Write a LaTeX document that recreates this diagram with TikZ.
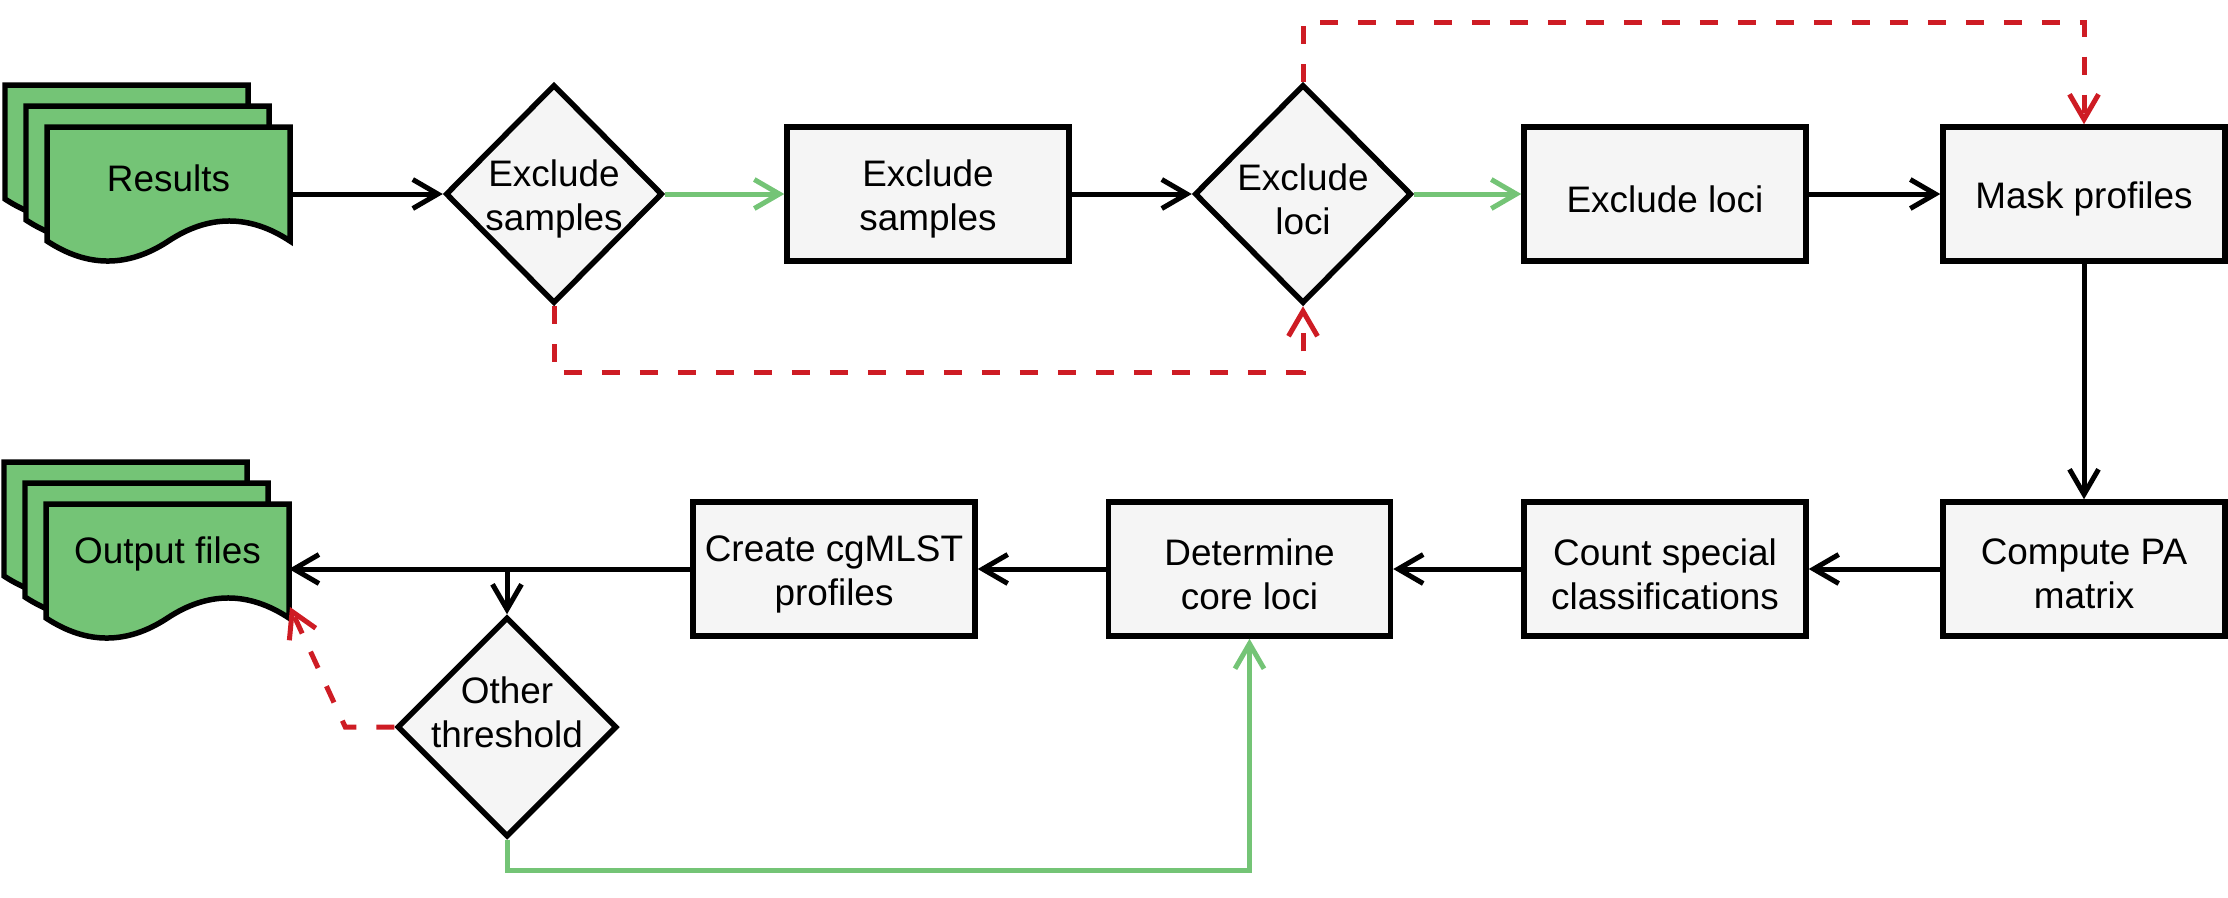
\documentclass[tikz,border=0pt]{standalone}
\usepackage{fontspec}
\setmainfont{Liberation Sans}
\usetikzlibrary{shapes.geometric,arrows.meta}
\definecolor{dgreen}{RGB}{116,196,118}
\definecolor{dred}{RGB}{206,28,36}
\definecolor{boxfill}{RGB}{245,245,245}
\newcommand\docpage[2]{%
  \path[docsheet] (#1,#2) -- (#1+243,#2) -- (#1+243,#2+114)
    .. controls (#1+202.5,#2+87.3) and (#1+162,#2+87.3) .. (#1+121.5,#2+114)
    .. controls (#1+81,#2+140.7) and (#1+40.5,#2+140.7) .. (#1,#2+114) -- cycle;}
\newcommand\boxtext[2]{\node[txt, yshift=-0.1cm] at (#1.center) {#2};}
\begin{document}
\begin{tikzpicture}[x=0.02cm,y=-0.02cm,
  font=\fontsize{21}{25}\selectfont,
  stepbox/.style={draw=black, fill=boxfill, line width=0.11cm, minimum width=5.64cm, minimum height=2.68cm, inner sep=0pt},
  decision/.style={diamond, draw=black, fill=boxfill, line width=0.11cm, minimum width=4.34cm, minimum height=4.38cm, inner sep=0pt},
  docsheet/.style={draw=black, fill=dgreen, line width=0.11cm, line join=miter},
  txt/.style={align=center, inner sep=0pt},
  anchorbox/.style={inner sep=0pt, outer sep=0pt, minimum width=4.86cm, minimum height=2.64cm},
  conn/.style={line width=0.1cm, -{Straight Barb[length=0.5cm,width=0.58cm]}},
  dashpat/.style={dash pattern=on 0.36cm off 0.4cm}]
\useasboundingbox (0,0) rectangle (2228,897);

% document stacks
\docpage{5}{85}\docpage{26}{106}\docpage{47}{127}
\docpage{4}{462}\docpage{25}{483}\docpage{46}{504}
\node[anchorbox] (res) at (168.5,194) {};
\node[txt] at (168.5,178) {Results};
\node[anchorbox] (out) at (167.5,569) {};
\node[txt] at (167.5,554) {Output files};
\coordinate (outR) at (290,607);

% top row
\node[decision] (d1) at (554,194) {};
\boxtext{d1}{Exclude\\samples}
\node[stepbox] (b1) at (928,194) {};
\boxtext{b1}{Exclude\\samples}
\node[decision] (d2) at (1303,194) {};
\boxtext{d2}{Exclude\\loci}
\node[stepbox] (b2) at (1665,194) {};
\boxtext{b2}{Exclude loci}
\node[stepbox] (mask) at (2084,194) {};
\boxtext{mask}{Mask profiles}

% bottom row
\node[stepbox] (pa) at (2084,569) {};
\boxtext{pa}{Compute PA\\matrix}
\node[stepbox] (cnt) at (1665,569) {};
\boxtext{cnt}{Count special\\classifications}
\node[stepbox] (core) at (1249.5,569) {};
\boxtext{core}{Determine\\core loci}
\node[stepbox] (cg) at (834,569) {};
\boxtext{cg}{Create cgMLST\\profiles}
\node[decision, minimum width=4.4cm, minimum height=4.4cm] (d3) at (507,727) {};
\node[txt] at (507,712) {Other\\threshold};

% connectors
\draw[conn] (res.east) -- (d1.west);
\draw[conn, dgreen] (d1.east) -- (b1.west);
\draw[conn] (b1.east) -- (d2.west);
\draw[conn, dgreen] (d2.east) -- (b2.west);
\draw[conn] (b2.east) -- (mask.west);
\draw[conn] (mask.south) -- (pa.north);
\draw[conn] (pa.west) -- (cnt.east);
\draw[conn] (cnt.west) -- (core.east);
\draw[conn] (core.west) -- (cg.east);
\draw[conn] (cg.west) -- (out.east);
\draw[conn] (cg.west) -| (d3.north);
\draw[conn, dgreen] (d3.south) -- ++(0,31) -| (core.south);
\draw[conn, dred, dashpat] (d1.south) -- ++(0,66) -| (d2.south);
\draw[conn, dred, dashpat] (d2.north) -- ++(0,-59) -| (mask.north);
\draw[conn, dred, dashpat] (d3.west) -- ++(-49,0) -- (outR);
\end{tikzpicture}
\end{document}
